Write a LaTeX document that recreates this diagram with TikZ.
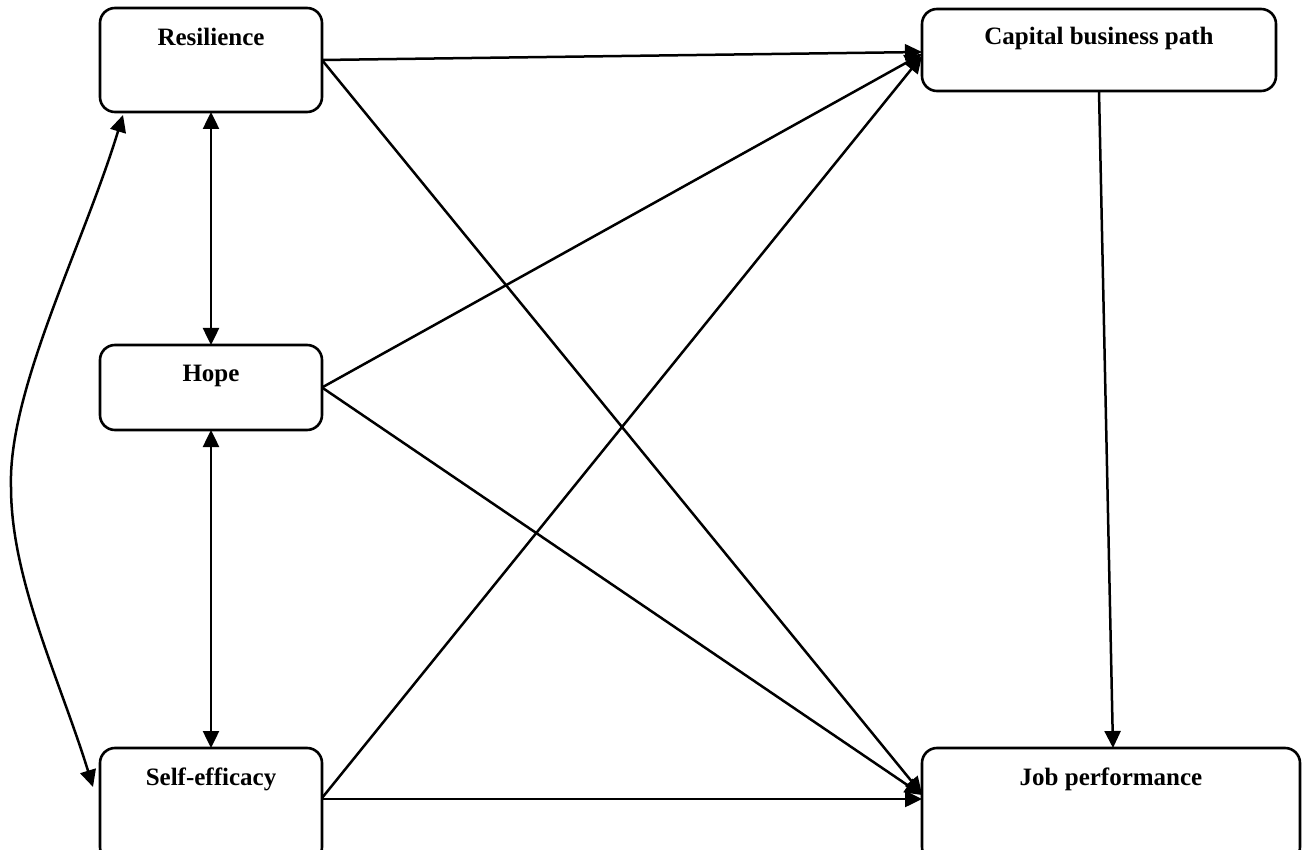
\documentclass[tikz,border=0pt]{standalone}
\usepackage{fontspec}
\setmainfont{Liberation Serif}
\usetikzlibrary{arrows.meta}
\begin{document}
\begin{tikzpicture}[x=1pt,y=-1pt,
  boxstyle/.style={draw,line width=2.6pt,rounded corners=15pt,inner sep=0pt,outer sep=0pt},
  labelstyle/.style={anchor=base,inner sep=0pt,font=\fontsize{25}{30}\selectfont\bfseries},
  tip/.style={Triangle[length=17pt,width=16pt]},
  conn/.style={line width=2.5pt,-{Triangle[length=17pt,width=16pt]}},
  biconn/.style={line width=2.5pt,{Triangle[length=17pt,width=16pt]}-{Triangle[length=17pt,width=16pt]}}]
\fill[white] (0,0) rectangle (1302,850);
\useasboundingbox (0,0) rectangle (1302,850);
% boxes
\node[boxstyle,minimum width=222pt,minimum height=104pt] (res) at (211,60) {};
\node[boxstyle,minimum width=222pt,minimum height=85pt] (hope) at (211,387.5) {};
\node[boxstyle,minimum width=222pt,minimum height=114pt] (self) at (211,805) {};
\node[boxstyle,minimum width=354pt,minimum height=82pt] (cap) at (1099,50) {};
\node[boxstyle,minimum width=378pt,minimum height=114pt] (job) at (1111,805) {};
% labels
\node[labelstyle] (tres) at (211,46) {Resilience};
\node[labelstyle] (thope) at (211,382) {Hope};
\node[labelstyle] (tself) at (211,785) {Self-efficacy};
\node[labelstyle] (tcap) at (1099,45) {Capital business path};
\node[labelstyle] (tjob) at (1111,785) {Job performance};
% connectors
\draw[conn] (res.east) -- ([yshift=-2pt]cap.west);
\draw[conn] (hope.east) -- ([yshift=-4pt]cap.west);
\draw[conn] ([yshift=7pt]self.east) -- ([yshift=-6pt]cap.west);
\draw[conn] (res.east) -- ([yshift=11pt]job.west);
\draw[conn] (hope.east) -- ([yshift=10pt]job.west);
\draw[conn] ([yshift=6pt]self.east) -- ([yshift=6pt]job.west);
\draw[conn] (cap.south) -- ([xshift=2pt]job.north);
\draw[biconn] (res.south) -- (hope.north);
\draw[biconn] (hope.south) -- (self.north);
\coordinate (ca) at ([xshift=23pt,yshift=-3pt]res.south west);
\coordinate (cb) at (93,787);
\draw[biconn] (ca) .. controls (83,246) and (8,390) .. (11,487) .. controls (11,580) and (60,680) .. (cb);
\end{tikzpicture}
\end{document}
